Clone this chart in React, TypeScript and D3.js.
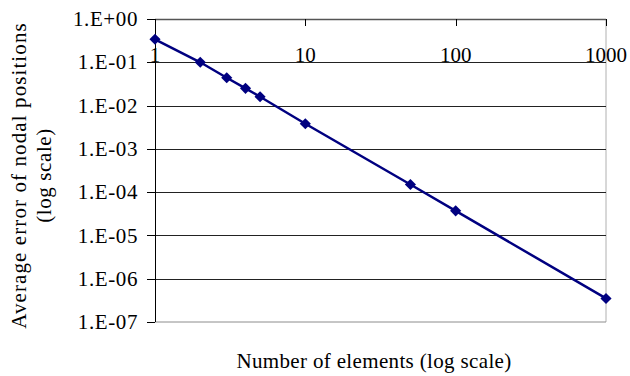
import { useMemo } from "react";
import * as d3 from "d3";

const W = 630;
const H = 376;
const MARGIN = { top: 19, right: 24, bottom: 54, left: 155 };

// number of elements vs average error of nodal positions
const elements = [1, 2, 3, 4, 5, 10, 50, 100, 1000];
const errors = [0.34, 0.1, 0.044, 0.025, 0.016, 0.0038, 0.00015, 0.000037, 0.00000035];

const xTicks = [1, 10, 100, 1000];
const xTickLabels = ["1", "10", "100", "1000"];
const yTicks = [1, 1e-1, 1e-2, 1e-3, 1e-4, 1e-5, 1e-6, 1e-7];
const yTickLabels = ["1.E+00", "1.E-01", "1.E-02", "1.E-03", "1.E-04", "1.E-05", "1.E-06", "1.E-07"];

const FONT = '"Times New Roman", Times, "Liberation Serif", "DejaVu Serif", serif';

export default function App() {
  const { x, y } = useMemo(() => {
    const x = d3.scaleLog().domain([1, 1000]).range([MARGIN.left, W - MARGIN.right]);
    const y = d3.scaleLog().domain([1e-7, 1]).range([H - MARGIN.bottom, MARGIN.top]);
    return { x, y };
  }, []);

  const pts = elements.map((e, i) => [x(e), y(errors[i])] as [number, number]);
  const path = d3.line()(pts) ?? "";
  const diamond = d3.symbol().type(d3.symbolSquare).size(62)() ?? "";

  const x0 = MARGIN.left;
  const x1 = W - MARGIN.right;
  const y0 = MARGIN.top;
  const y1 = H - MARGIN.bottom;

  return (
    <div style={{ position: "absolute", left: 0, top: 0, fontFamily: FONT }}>
      <svg width={W} height={H} style={{ display: "block", background: "#fff", fontFamily: FONT }}>
        {/* plot frame */}
        <line x1={x1} y1={y0} x2={x1} y2={y1} stroke="#b0b0b0" />
        <line x1={x0} y1={y1} x2={x1} y2={y1} stroke="#8c8c8c" />

        {/* horizontal gridlines + y ticks */}
        {yTicks.map((t, i) => (
          <g key={t}>
            {i > 0 && i < yTicks.length - 1 && (
              <line x1={x0} x2={x1} y1={Math.round(y(t)) + 0.5} y2={Math.round(y(t)) + 0.5} stroke="#222" />
            )}
            <line x1={x0 - 8} x2={x0} y1={Math.round(y(t)) + 0.5} y2={Math.round(y(t)) + 0.5} stroke="#000" />
            <text x={138} y={y(t)} dy="0.34em" textAnchor="end" fontSize={21} letterSpacing={0.6} fill="#000">
              {yTickLabels[i]}
            </text>
          </g>
        ))}

        {/* top x axis (crosses at 1.E+00) */}
        <line x1={x0} x2={x1} y1={y0 + 0.5} y2={y0 + 0.5} stroke="#555" strokeWidth={1.3} />
        <line x1={x0 + 0.5} x2={x0 + 0.5} y1={y0} y2={y1} stroke="#000" />
        {xTicks.map((t, i) => (
          <g key={t}>
            <line x1={Math.round(x(t)) + 0.5} x2={Math.round(x(t)) + 0.5} y1={y0} y2={y0 + 7} stroke="#000" />
            <text x={x(t)} y={61.5} textAnchor="middle" fontSize={21} fill="#000">
              {xTickLabels[i]}
            </text>
          </g>
        ))}

        {/* series */}
        <path d={path} fill="none" stroke="#000080" strokeWidth={2.5} />
        {pts.map(([px, py], i) => (
          <path key={i} d={diamond} transform={`translate(${px},${py}) rotate(45)`} fill="#000080" />
        ))}

        {/* axis titles */}
        <text x={374} y={367.5} textAnchor="middle" fontSize={21} letterSpacing={0.35} fill="#000">
          Number of elements (log scale)
        </text>
        <g transform="translate(0,175.5) rotate(-90)">
          <text x={0} y={26} textAnchor="middle" fontSize={21} letterSpacing={1.1} fill="#000">
            Average error of nodal positions
          </text>
          <text x={0} y={51} textAnchor="middle" fontSize={21} letterSpacing={0.6} fill="#000">
            (log scale)
          </text>
        </g>
      </svg>
    </div>
  );
}
